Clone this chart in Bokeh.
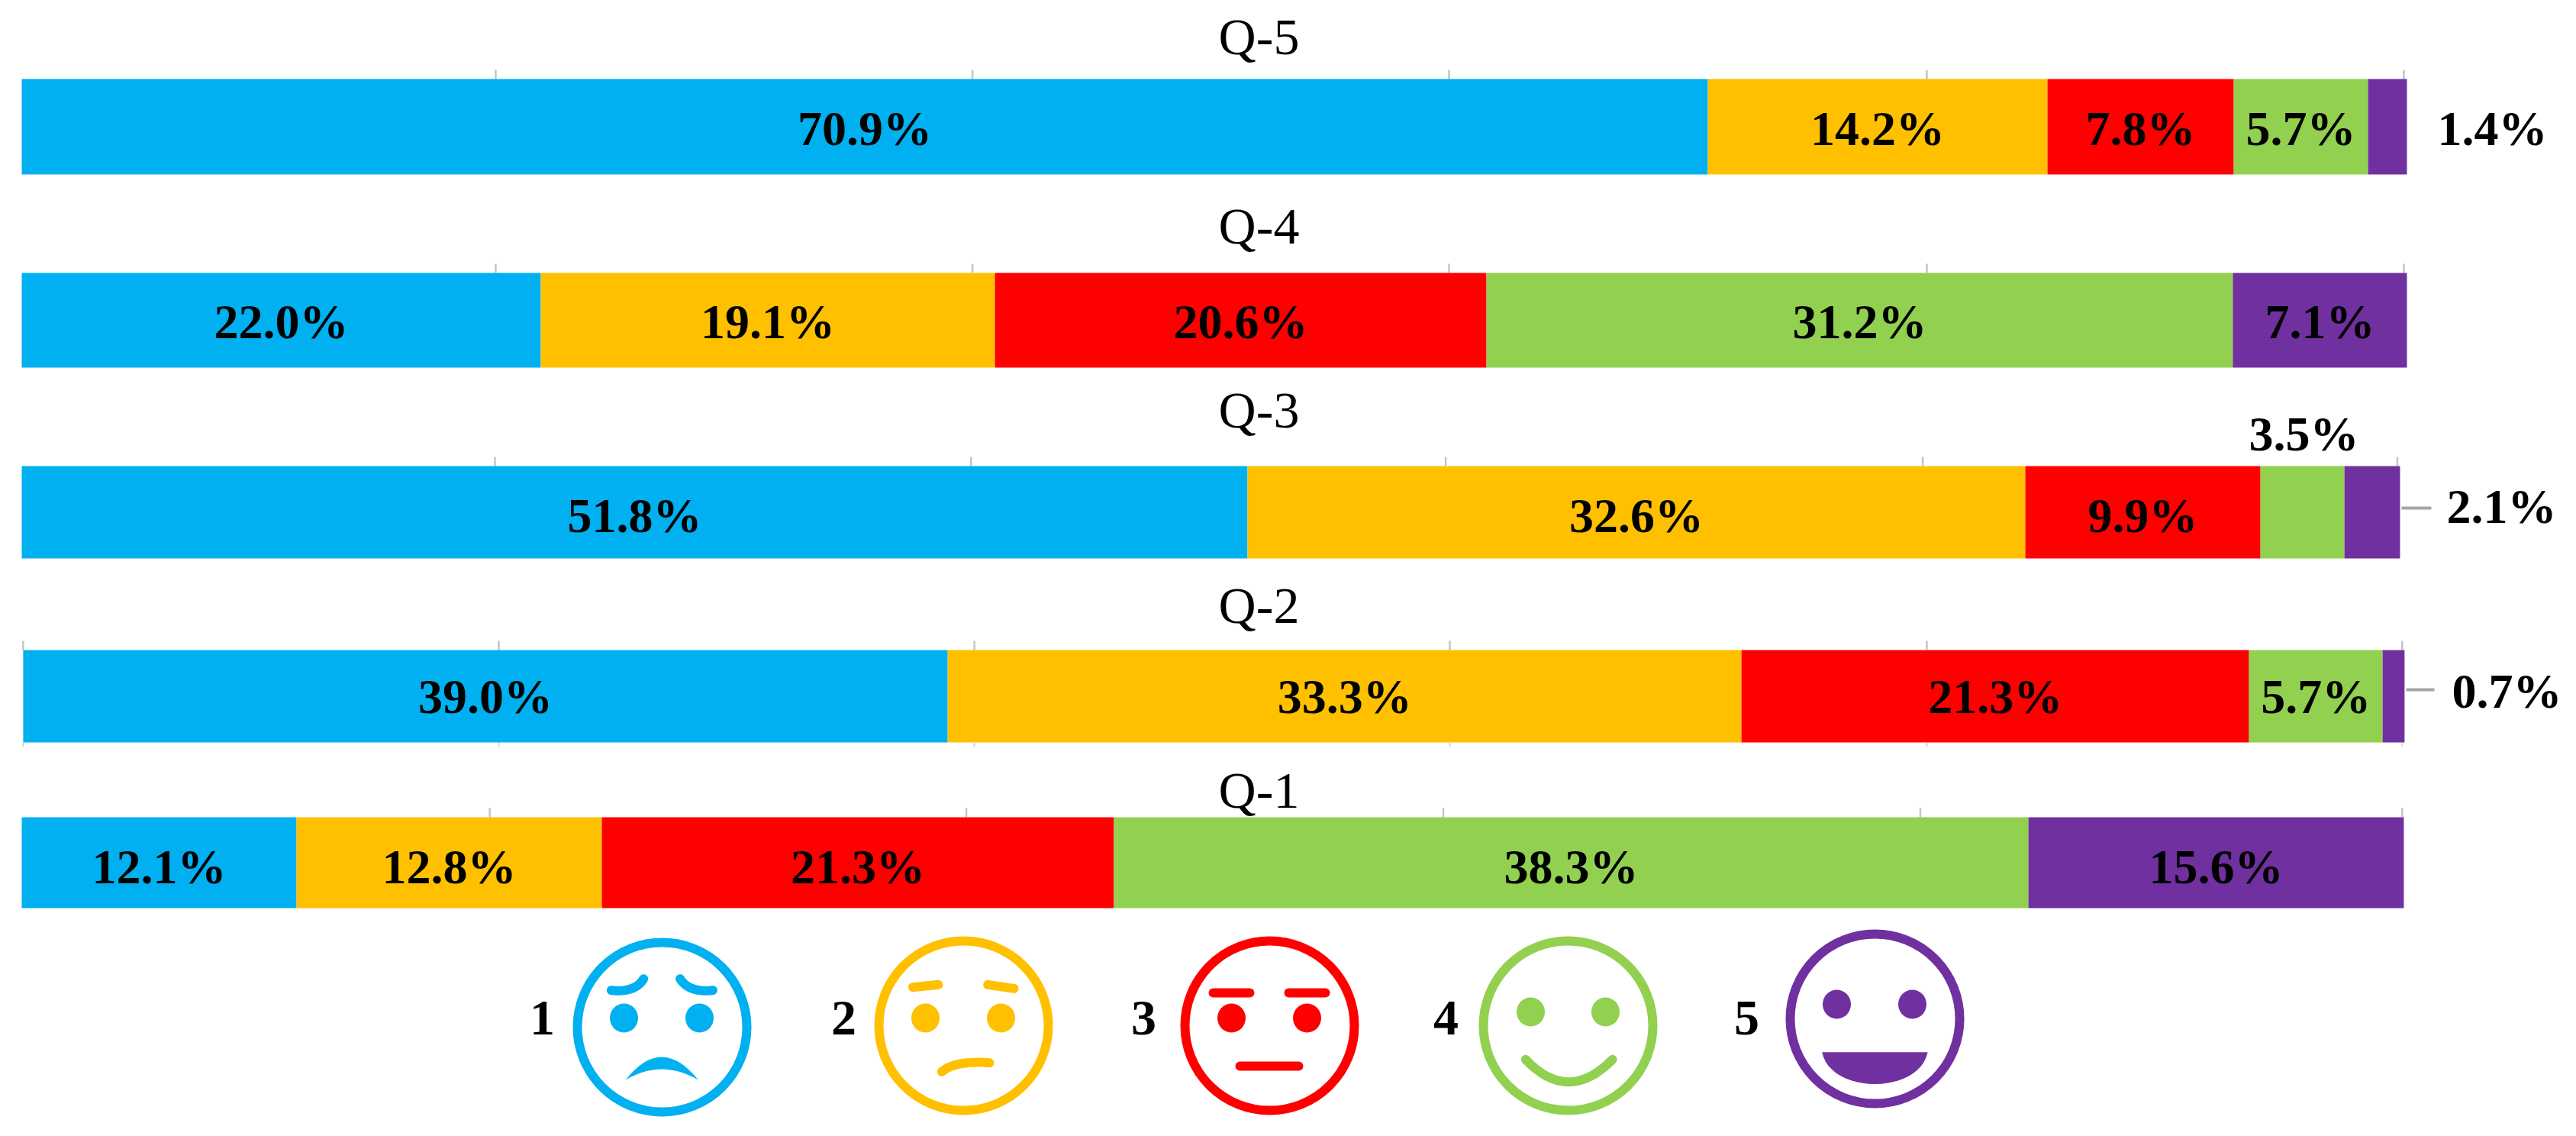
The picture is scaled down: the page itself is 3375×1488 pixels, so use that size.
from bokeh.plotting import figure
from bokeh.models import Range1d
from bokeh.core.properties import value
from bokeh.embed import file_html
from bokeh.resources import INLINE

# ---- data -------------------------------------------------------------
questions = ["Q-5", "Q-4", "Q-3", "Q-2", "Q-1"]
ratings = ["1", "2", "3", "4", "5"]
colors = ["#00B0F0", "#FFC000", "#FF0000", "#92D050", "#7030A0"]

# percentages as printed
q5_labels = [70.9, 14.2, 7.8, 5.7, 1.4]
q4_labels = [22.0, 19.1, 20.6, 31.2, 7.1]
q3_labels = [51.8, 32.6, 9.9, 3.5, 2.1]
q2_labels = [39.0, 33.3, 21.3, 5.7, 0.7]
q1_labels = [12.1, 12.8, 21.3, 38.3, 15.6]

# segment lengths as drawn (percent of the full scale)
q5_widths = [70.69, 14.24, 7.81, 5.63, 1.63]
q4_widths = [21.76, 19.04, 20.61, 31.29, 7.30]
q3_widths = [51.39, 32.61, 9.86, 3.52, 2.33]
q2_widths = [38.76, 33.28, 21.28, 5.60, 0.92]
q1_widths = [11.52, 12.80, 21.47, 38.34, 15.74]
row_start = [0, 0, 0, 0.06, 0]

q5_ticks = [19.87, 39.86, 59.84, 79.87, 99.87]
q4_ticks = [19.87, 39.86, 59.84, 79.87, 99.87]
q3_ticks = [19.84, 39.80, 59.70, 79.70, 99.60]
q2_ticks = [0.06, 20.0, 39.94, 59.87, 79.87, 99.80]
q1_ticks = [19.62, 39.60, 59.60, 79.60, 99.80]

# ---- layout (picture pixels) ------------------------------------------
W, H = 3359, 1472
PX0, PCT = 28.0, 31.25          # where 0 % sits and pixels per percent
band_top = [103, 357, 610, 851, 1070]
band_bot = [228, 481, 731, 972, 1189]
label_y = [168, 421, 675, 912, 1135]
title_y = [47, 295, 536, 792, 1034]
FONT = value("Liberation Serif")

p = figure(width=W, height=H, output_backend="svg", toolbar_location=None,
           x_range=Range1d((0 - PX0) / PCT, (W - PX0) / PCT),
           y_range=Range1d(H, 0),
           min_border=0, min_border_left=0, min_border_right=0,
           min_border_top=0, min_border_bottom=0,
           x_axis_type=None, y_axis_type=None, outline_line_color=None,
           background_fill_color="white", border_fill_color="white")
p.grid.visible = False
p.extra_x_ranges = {"px": Range1d(0, W)}

rows = zip(range(5), [q5_widths, q4_widths, q3_widths, q2_widths, q1_widths],
           [q5_labels, q4_labels, q3_labels, q2_labels, q1_labels],
           [q5_ticks, q4_ticks, q3_ticks, q2_ticks, q1_ticks])


def text(x, y, s, px=True, size="64px", style="bold"):
    kw = {"x_range_name": "px"} if px else {}
    p.text([x], [y], text=[s], text_font=FONT, text_font_size=size,
           text_font_style=style, text_color="#000000",
           text_align="center", text_baseline="middle", **kw)


for i, widths, labels, ticks in rows:
    top, bot = band_top[i], band_bot[i]
    p.segment(ticks, [top - 12] * len(ticks), ticks, [top] * len(ticks),
              line_color="#c4c4c4", line_width=2.5)
    if questions[i] == "Q-2":
        p.segment(ticks, [bot] * len(ticks), ticks, [bot + 6] * len(ticks),
                  line_color="#dddddd", line_width=2.5)
    left = row_start[i]
    for j, w in enumerate(widths):
        p.quad(left=[left], right=[left + w], top=[top], bottom=[bot],
               fill_color=colors[j], line_color=None)
        s = f"{labels[j]:.1f}%"
        mid = left + w / 2
        if s == "1.4%":
            text(3265, 168, s)
        elif s == "2.1%":
            text(3277, 663, s)
        elif s == "0.7%":
            text(3284, 905, s)
        elif s == "3.5%":
            text(3018, 568, s)
        else:
            text(mid, label_y[i], s, px=False)
        left += w
    text(1649, title_y[i], questions[i], size="68px", style="normal")

# leader lines
p.segment([3146, 3152], [665, 903], [3185, 3189], [665, 903],
          line_color="#a6a6a6", line_width=4, x_range_name="px")


# ---- face legend ------------------------------------------------------
def q(a, c, b, n=16):
    out = []
    for t in range(n + 1):
        u = t / n
        out.append(((1 - u) ** 2 * a[0] + 2 * u * (1 - u) * c[0] + u * u * b[0],
                    (1 - u) ** 2 * a[1] + 2 * u * (1 - u) * c[1] + u * u * b[1]))
    return out


def cub(a, c, d, b, n=24):
    out = []
    for t in range(n + 1):
        u = t / n
        v = 1 - u
        out.append((v**3 * a[0] + 3 * v * v * u * c[0] + 3 * v * u * u * d[0] + u**3 * b[0],
                    v**3 * a[1] + 3 * v * v * u * c[1] + 3 * v * u * u * d[1] + u**3 * b[1]))
    return out


def pts(seq, x0):
    return [x0 + a / 2.24 for a, b in seq], [1200 + b / 3 for a, b in seq]


face_x = [867, 1262, 1663, 2054, 2456]
face_y = [1345, 1343, 1343, 1343, 1334]
face_r = [111, 111, 111, 111, 111]
eye_y = [1333, 1333, 1333, 1325, 1315]
eye_l = [817, 1212, 1613, 2005, 2406]
eye_r = [916, 1311, 1712, 2103, 2505]
num_x = [710, 1105, 1498, 1894, 2288]

strokes = [
    (720, [q((180, 290), (250, 300), (275, 245)), q((478, 290), (408, 300), (382, 245))]),
    (720, [[(1065, 278), (1140, 268)], [(1285, 268), (1362, 283)],
           q((1150, 610), (1190, 565), (1290, 575))]),
    (1880, [q((265, 562), (390, 738), (520, 562))]),
]
fills = [
    (720, q((222, 642), (328, 462), (435, 642)) + q((435, 642), (328, 558), (222, 642)), 0),
    (1880, [(1135, 533)] + cub((1445, 533), (1420, 700), (1160, 700), (1135, 533)), 4),
]
flat_marks_x = [(1589, 1637), (1688, 1736), (1624, 1701)]
flat_marks_y = [1300, 1300, 1396]

for k in range(5):
    c = colors[k]
    p.circle([face_x[k]], [face_y[k]], radius=face_r[k], fill_color=None,
             line_color=c, line_width=12, x_range_name="px")
    p.ellipse([eye_l[k], eye_r[k]], [eye_y[k]] * 2, width=37, height=38,
              fill_color=c, line_color=None, x_range_name="px")
    text(num_x[k], 1333, ratings[k], size="66px")

for (x0, lines), k in zip(strokes, [0, 1, 3]):
    for seq in lines:
        xs, ys = pts(seq, x0)
        p.line(xs, ys, line_color=colors[k], line_width=12, line_cap="round",
               x_range_name="px")
for x0, seq, k in fills:
    xs, ys = pts(seq, x0)
    p.patch(xs, ys, fill_color=colors[k], line_color=None, x_range_name="px")
for (a, b), y in zip(flat_marks_x, flat_marks_y):
    p.line([a, b], [y, y], line_color=colors[2], line_width=12, line_cap="round",
           x_range_name="px")

open("out.html", "w").write(file_html(p, INLINE))
